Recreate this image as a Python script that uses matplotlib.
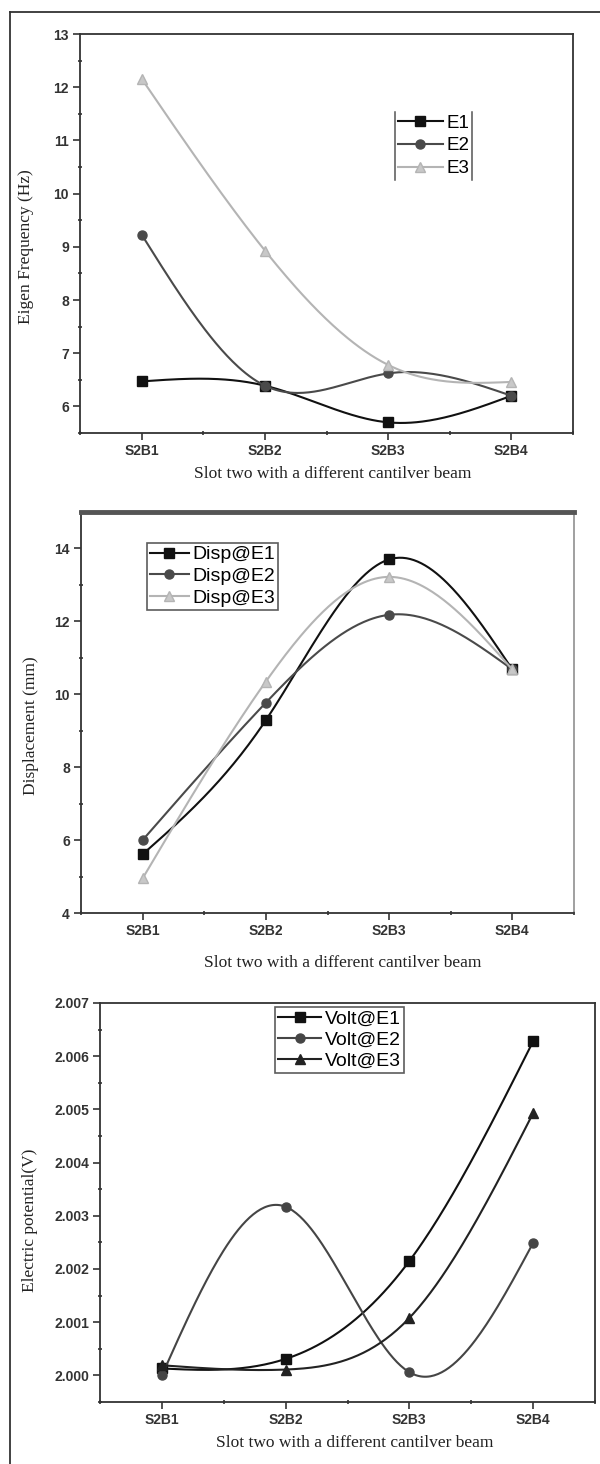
import matplotlib
matplotlib.use("Agg")
import matplotlib.pyplot as plt
from matplotlib.lines import Line2D
from matplotlib.ticker import MultipleLocator, FormatStrFormatter
import numpy as np

categories = ["S2B1", "S2B2", "S2B3", "S2B4"]

# Eigen frequency (Hz)
e1 = [6.47, 6.39, 5.70, 6.20]
e2 = [9.23, 6.39, 6.62, 6.20]
e3 = [12.16, 8.93, 6.78, 6.46]

# Displacement (mm)
disp_e1 = [5.61, 9.29, 13.70, 10.68]
disp_e2 = [6.00, 9.77, 12.18, 10.68]
disp_e3 = [4.95, 10.35, 13.22, 10.68]

# Electric potential (V)
volt_e1 = [2.00013, 2.00031, 2.00215, 2.00628]
volt_e2 = [2.00000, 2.00317, 2.00006, 2.00249]
volt_e3 = [2.00019, 2.00011, 2.00108, 2.00493]

xlabel = "Slot two with a different cantilver beam"
serif = "Liberation Serif"
sans = "Liberation Sans"


def spline(x, y, n=200):
    """Natural cubic spline through the points (line style 'spline' as in Origin)."""
    x = np.asarray(x, float)
    y = np.asarray(y, float)
    m = len(x)
    h = np.diff(x)
    A = np.zeros((m, m))
    b = np.zeros(m)
    A[0, 0] = A[-1, -1] = 1
    for i in range(1, m - 1):
        A[i, i - 1] = h[i - 1]
        A[i, i] = 2 * (h[i - 1] + h[i])
        A[i, i + 1] = h[i]
        b[i] = 6 * ((y[i + 1] - y[i]) / h[i] - (y[i] - y[i - 1]) / h[i - 1])
    M = np.linalg.solve(A, b)
    xs = np.linspace(x[0], x[-1], n)
    k = np.clip(np.searchsorted(x, xs) - 1, 0, m - 2)
    t0 = x[k + 1] - xs
    t1 = xs - x[k]
    hk = h[k]
    ys = (M[k] * t0 ** 3 / (6 * hk) + M[k + 1] * t1 ** 3 / (6 * hk)
          + (y[k] / hk - M[k] * hk / 6) * t0 + (y[k + 1] / hk - M[k + 1] * hk / 6) * t1)
    return xs, ys


def plot_series(ax, y, color, marker, label, mfc=None):
    x = np.arange(1, len(y) + 1)
    xs, ys = spline(x, y)
    ax.plot(xs, ys, color=color, lw=1.5)
    ax.plot(x, y, ls="none", marker=marker, ms=6.5, color=color,
            mfc=mfc or color, mec=color)
    # legend proxy
    ax.plot([], [], color=color, lw=1.5, marker=marker, ms=6.5,
            mfc=mfc or color, mec=color, label=label)


def style_axes(ax, ylab, ylab_x, ylab_y, xlab_y, xlab_x):
    ax.set_xlim(0.5, 4.5)
    ax.set_xticks(range(1, 5))
    ax.set_xticklabels(categories)
    ax.xaxis.set_minor_locator(MultipleLocator(0.5))
    for lab in ax.get_xticklabels() + ax.get_yticklabels():
        lab.set_fontfamily(sans)
        lab.set_fontsize(10)
        lab.set_fontweight("bold")
        lab.set_color("#333333")
    ax.tick_params(which="major", direction="out", length=5, width=1.2,
                   top=False, right=False, pad=3, colors="#333333")
    ax.tick_params(which="minor", direction="inout", length=3, width=1.2,
                   top=False, right=False, colors="#333333")
    for s in ax.spines.values():
        s.set_color("#333333")
        s.set_linewidth(1.3)
    ax.set_ylabel(ylab, fontfamily=serif, fontsize=12.5, color="#222222")
    ax.yaxis.set_label_coords(ylab_x, ylab_y)
    ax.set_xlabel(xlabel, fontfamily=serif, fontsize=12.5, color="#222222")
    ax.xaxis.set_label_coords(xlab_x, xlab_y)


fig = plt.figure(figsize=(6, 14.64), dpi=100)

# ---- Eigen frequency ----
ax1 = fig.add_axes([80 / 600, 1 - 433 / 1464, 493 / 600, 399 / 1464])
plot_series(ax1, e1, "#111111", "s", "E1")
plot_series(ax1, e2, "#4a4a4a", "o", "E2")
plot_series(ax1, e3, "#b4b4b4", "^", "E3", mfc="#c8c8c8")
ax1.set_ylim(5.5, 13)
ax1.yaxis.set_major_locator(MultipleLocator(1))
ax1.yaxis.set_minor_locator(MultipleLocator(0.5))
style_axes(ax1, "Eigen Frequency (Hz)", -0.093, 0.466, -0.083, 0.513)
leg1 = ax1.legend(loc="upper left", bbox_to_anchor=(0.639, 0.805),
                  borderaxespad=0, fancybox=False, handlelength=2.4,
                  handletextpad=0.2, labelspacing=0.3, borderpad=0.15,
                  frameon=False, prop={"family": sans, "size": 13.5})

# ---- Displacement ----
ax2 = fig.add_axes([81 / 600, 1 - 913 / 1464, 493 / 600, 401 / 1464])
plot_series(ax2, disp_e1, "#111111", "s", "Disp@E1")
plot_series(ax2, disp_e2, "#4a4a4a", "o", "Disp@E2")
plot_series(ax2, disp_e3, "#b4b4b4", "^", "Disp@E3", mfc="#c8c8c8")
ax2.set_ylim(4, 15)
ax2.yaxis.set_major_locator(MultipleLocator(2))
ax2.yaxis.set_minor_locator(MultipleLocator(1))
style_axes(ax2, "Displacement (mm)", -0.085, 0.466, -0.105, 0.53)
ax2.spines["top"].set_linewidth(3.5)
ax2.spines["top"].set_color("#555555")
ax2.spines["right"].set_color("#999999")
leg2 = ax2.legend(loc="upper left", bbox_to_anchor=(0.134, 0.923),
                  borderaxespad=0, fancybox=False, handlelength=2.0,
                  handletextpad=0.2, labelspacing=0.22, borderpad=0.15,
                  prop={"family": sans, "size": 14})
leg2.get_frame().set_edgecolor("#333333")
leg2.get_frame().set_linewidth(1.2)

# ---- Electric potential ----
ax3 = fig.add_axes([100 / 600, 1 - 1402 / 1464, 495 / 600, 399 / 1464])
plot_series(ax3, volt_e1, "#111111", "s", "Volt@E1")
plot_series(ax3, volt_e2, "#454545", "o", "Volt@E2")
plot_series(ax3, volt_e3, "#222222", "^", "Volt@E3")
ax3.set_ylim(1.9995, 2.007)
ax3.yaxis.set_major_locator(MultipleLocator(0.001))
ax3.yaxis.set_minor_locator(MultipleLocator(0.0005))
ax3.yaxis.set_major_formatter(FormatStrFormatter("%.3f"))
style_axes(ax3, "Electric potential(V)", -0.125, 0.456, -0.083, 0.515)
leg3 = ax3.legend(loc="upper left", bbox_to_anchor=(0.354, 0.99),
                  borderaxespad=0, fancybox=False, handlelength=2.2,
                  handletextpad=0.2, labelspacing=0.18, borderpad=0.15,
                  prop={"family": sans, "size": 14})
leg3.get_frame().set_edgecolor("#333333")
leg3.get_frame().set_linewidth(1.2)

# legend 1 has only its left and right edges drawn
fig.canvas.draw()
bb = leg1.get_window_extent().transformed(fig.transFigure.inverted())
for xe in (bb.x0, bb.x1):
    fig.add_artist(Line2D([xe, xe], [bb.y0, bb.y1], transform=fig.transFigure,
                          color="#555555", lw=1.1))

# outer frame (left and top edges only)
fig.add_artist(Line2D([10 / 600, 10 / 600], [0, 1 - 12 / 1464],
                      transform=fig.transFigure, color="#333333", lw=1.3))
fig.add_artist(Line2D([10 / 600, 1], [1 - 12 / 1464, 1 - 12 / 1464],
                      transform=fig.transFigure, color="#333333", lw=1.3))

fig.savefig("out.png", dpi=100)
